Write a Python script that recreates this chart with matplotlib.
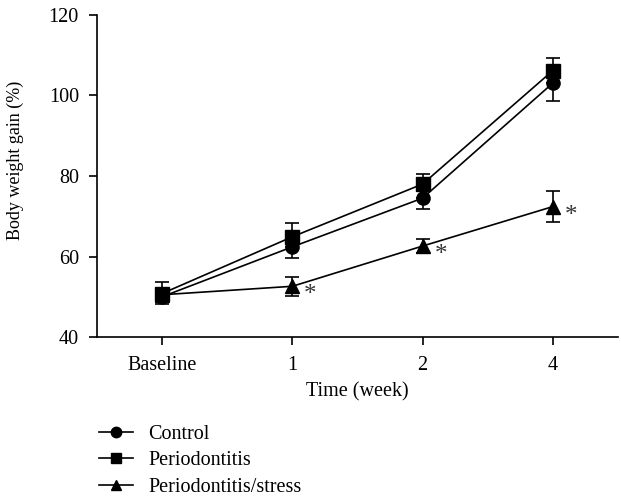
import matplotlib
matplotlib.use("Agg")
import matplotlib.pyplot as plt
from matplotlib.lines import Line2D

plt.rcParams['font.family'] = ['Liberation Serif', 'DejaVu Serif']
plt.rcParams['font.size'] = 14.5

# values
time_labels = ["Baseline", "1", "2", "4"]
control = [50.0, 62.4, 74.5, 103.1]
control_err = [1.9, 2.7, 2.7, 4.4]
perio = [50.8, 64.9, 78.0, 106.2]
perio_err = [2.8, 3.5, 2.5, 3.2]
stress = [50.5, 52.6, 62.6, 72.4]
stress_err = [1.6, 2.3, 1.8, 3.9]
stress_signif = [False, True, True, True]

x = list(range(len(time_labels)))
zeros = [0] * len(x)

fig = plt.figure(figsize=(6.21, 4.96), dpi=100)
ax = fig.add_axes([97 / 621, 1 - 337 / 496, 521 / 621, 322 / 496])

common = dict(color="black", lw=1.2, elinewidth=1.2, capsize=5, capthick=1.2)
# GraphPad style: control bars point down, periodontitis bars point up
ax.errorbar(x, control, yerr=[control_err, zeros], fmt="-o", ms=9.5, **common)
ax.errorbar(x, perio, yerr=[zeros, perio_err], fmt="-s", ms=9.5, **common)
ax.errorbar(x, stress, yerr=stress_err, fmt="-^", ms=9.5, **common)

for xi, yi, sig in zip(x, stress, stress_signif):
    if sig:
        ax.annotate("*", (xi, yi), xytext=(13, -6.5), textcoords="offset points",
                    ha="center", va="center", fontsize=18, color="#333333")

ax.set_xlim(-0.5, 3.5)
ax.set_ylim(40, 120)
ax.set_yticks([40, 60, 80, 100, 120])
ax.set_xticks(x)
ax.set_xticklabels(time_labels)
ax.spines["top"].set_visible(False)
ax.spines["right"].set_visible(False)
for sp in ax.spines.values():
    sp.set_linewidth(1.2)
ax.tick_params(axis="both", direction="out", length=6, width=1.2)
ax.tick_params(axis="x", pad=8)
ax.tick_params(axis="y", pad=7)

ax.set_xlabel("Time (week)", labelpad=5)
ax.set_ylabel("Body weight gain (%)", fontsize=13)
ax.yaxis.set_label_coords(-0.14, 0.55)

handles = [
    Line2D([], [], color="black", lw=1.2, marker="o", ms=7.5),
    Line2D([], [], color="black", lw=1.2, marker="s", ms=7.5),
    Line2D([], [], color="black", lw=1.2, marker="^", ms=7.5),
]
fig.legend(handles, ["Control", "Periodontitis", "Periodontitis/stress"],
           loc="upper left", bbox_to_anchor=(99 / 621, 1 - 425 / 496),
           frameon=False, borderpad=0, borderaxespad=0, handlelength=1.7,
           handletextpad=0.75, labelspacing=0.36)

fig.savefig("out.png", dpi=100)
